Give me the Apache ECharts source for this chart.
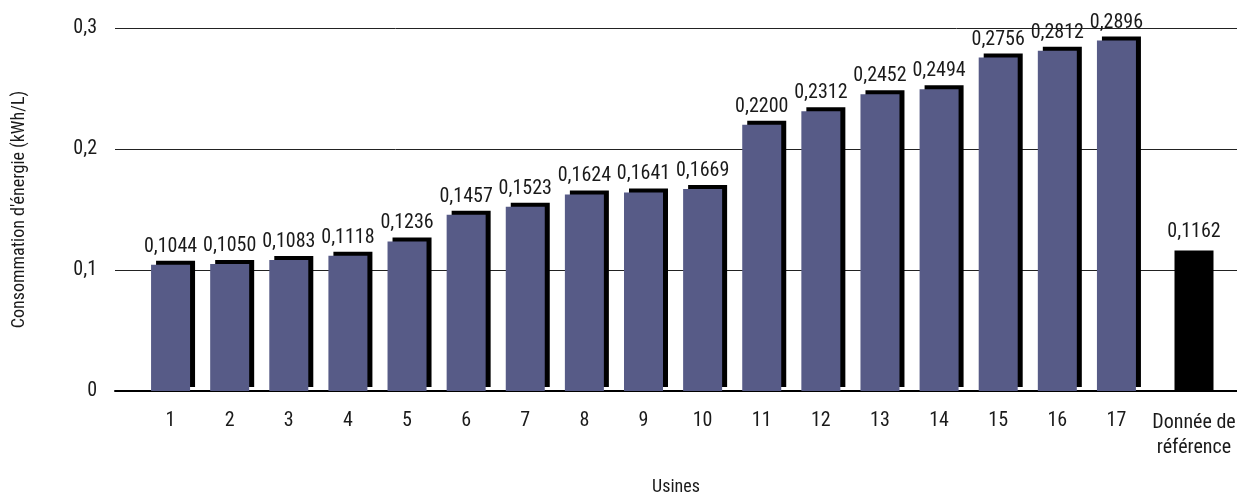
<!DOCTYPE html>
<html lang="fr">
<head>
<meta charset="utf-8">
<title>Consommation d'énergie par usine</title>
<script src="https://cdn.jsdelivr.net/npm/echarts@6/dist/echarts.min.js"></script>
<style>
  html, body { margin: 0; padding: 0; background: #ffffff; }
  #chart { width: 1237px; height: 500px; }
</style>
</head>
<body>
<div id="chart"></div>
<script>
// Usines et consommation d'énergie (kWh/L)
const plantCategories = ['1', '2', '3', '4', '5', '6', '7', '8', '9', '10', '11', '12', '13', '14', '15', '16', '17'];
const plantValues = [0.1044, 0.1050, 0.1083, 0.1118, 0.1236, 0.1457, 0.1523, 0.1624, 0.1641, 0.1669,
                     0.2200, 0.2312, 0.2452, 0.2494, 0.2756, 0.2812, 0.2896];
const referenceCategory = ['Donnée de\nréférence'];
const referenceValue = [0.1162];
const yTicks = [0, 0.1, 0.2, 0.3];

const FONT = '"Roboto Condensed", "Liberation Sans", sans-serif';
const TEXT = '#1a1a1a';
const BAR = '#575b87';

const fmt = v => (v === 0 ? '0' : String(+v.toFixed(4)).replace('.', ','));
const fmt4 = v => v.toFixed(4).replace('.', ',');

const yMin = yTicks[0];
const yMax = yTicks[yTicks.length - 1];
const yStep = yTicks[1] - yTicks[0];

// Shared vertical extent of all grids
const TOP = 28, BOTTOM = 109;

const hiddenY = idx => ({
  type: 'value', gridIndex: idx, min: yMin, max: yMax, interval: yStep,
  show: false, splitLine: { show: false }
});

const valueLabel = {
  show: true, position: 'top', distance: 8,
  fontFamily: FONT, fontSize: 20, color: TEXT,
  formatter: p => fmt4(p.value)
};

const option = {
  backgroundColor: '#ffffff',
  animation: false,
  textStyle: { fontFamily: FONT },
  grid: [
    // background frame: y axis, gridlines, baseline, axis titles
    { left: 115, right: 0, top: TOP, bottom: BOTTOM, outerBoundsMode: 'none', containLabel: false },
    // plants 1–17
    { left: 141, width: 1005, top: TOP, bottom: BOTTOM, outerBoundsMode: 'none', containLabel: false },
    // reference value
    { left: 1164.5, width: 59, top: TOP, bottom: BOTTOM, outerBoundsMode: 'none', containLabel: false }
  ],
  xAxis: [
    {
      type: 'value', gridIndex: 0, min: 0, max: 1,
      name: 'Usines', nameLocation: 'middle', nameGap: 87,
      nameTextStyle: { fontFamily: FONT, fontSize: 18, color: TEXT },
      axisLine: { show: true, onZero: true, lineStyle: { color: '#000', width: 2 } },
      axisTick: { show: false }, axisLabel: { show: false }, splitLine: { show: false }
    },
    {
      type: 'category', gridIndex: 1, data: plantCategories,
      axisLine: { show: false }, axisTick: { show: false },
      axisLabel: { margin: 20, fontFamily: FONT, fontSize: 20, color: TEXT }
    },
    {
      type: 'category', gridIndex: 2, data: referenceCategory,
      axisLine: { show: false }, axisTick: { show: false },
      axisLabel: { margin: 19, fontFamily: FONT, fontSize: 20, color: TEXT, lineHeight: 25 }
    }
  ],
  yAxis: [
    {
      type: 'value', gridIndex: 0, min: yMin, max: yMax, interval: yStep,
      name: "Consommation d'énergie (kWh/L)", nameLocation: 'middle', nameGap: 87,
      nameTextStyle: { fontFamily: FONT, fontSize: 18, color: TEXT },
      axisLine: { show: false }, axisTick: { show: false },
      axisLabel: { margin: 18, fontFamily: FONT, fontSize: 20, color: TEXT, formatter: fmt },
      splitLine: { show: true, lineStyle: { color: '#222', width: 1 } }
    },
    hiddenY(1),
    hiddenY(2)
  ],
  series: [
    {
      type: 'bar', xAxisIndex: 1, yAxisIndex: 1, data: plantValues,
      barWidth: 39, z: 3,
      itemStyle: {
        color: BAR,
        shadowColor: '#000', shadowBlur: 0, shadowOffsetX: 5, shadowOffsetY: -4
      },
      label: valueLabel
    },
    {
      type: 'bar', xAxisIndex: 2, yAxisIndex: 2, data: referenceValue,
      barWidth: 39, z: 3,
      itemStyle: { color: '#000' },
      label: valueLabel
    }
  ]
};

const chart = echarts.init(document.getElementById('chart'), null, { renderer: 'canvas' });
chart.setOption(option);
</script>
</body>
</html>
